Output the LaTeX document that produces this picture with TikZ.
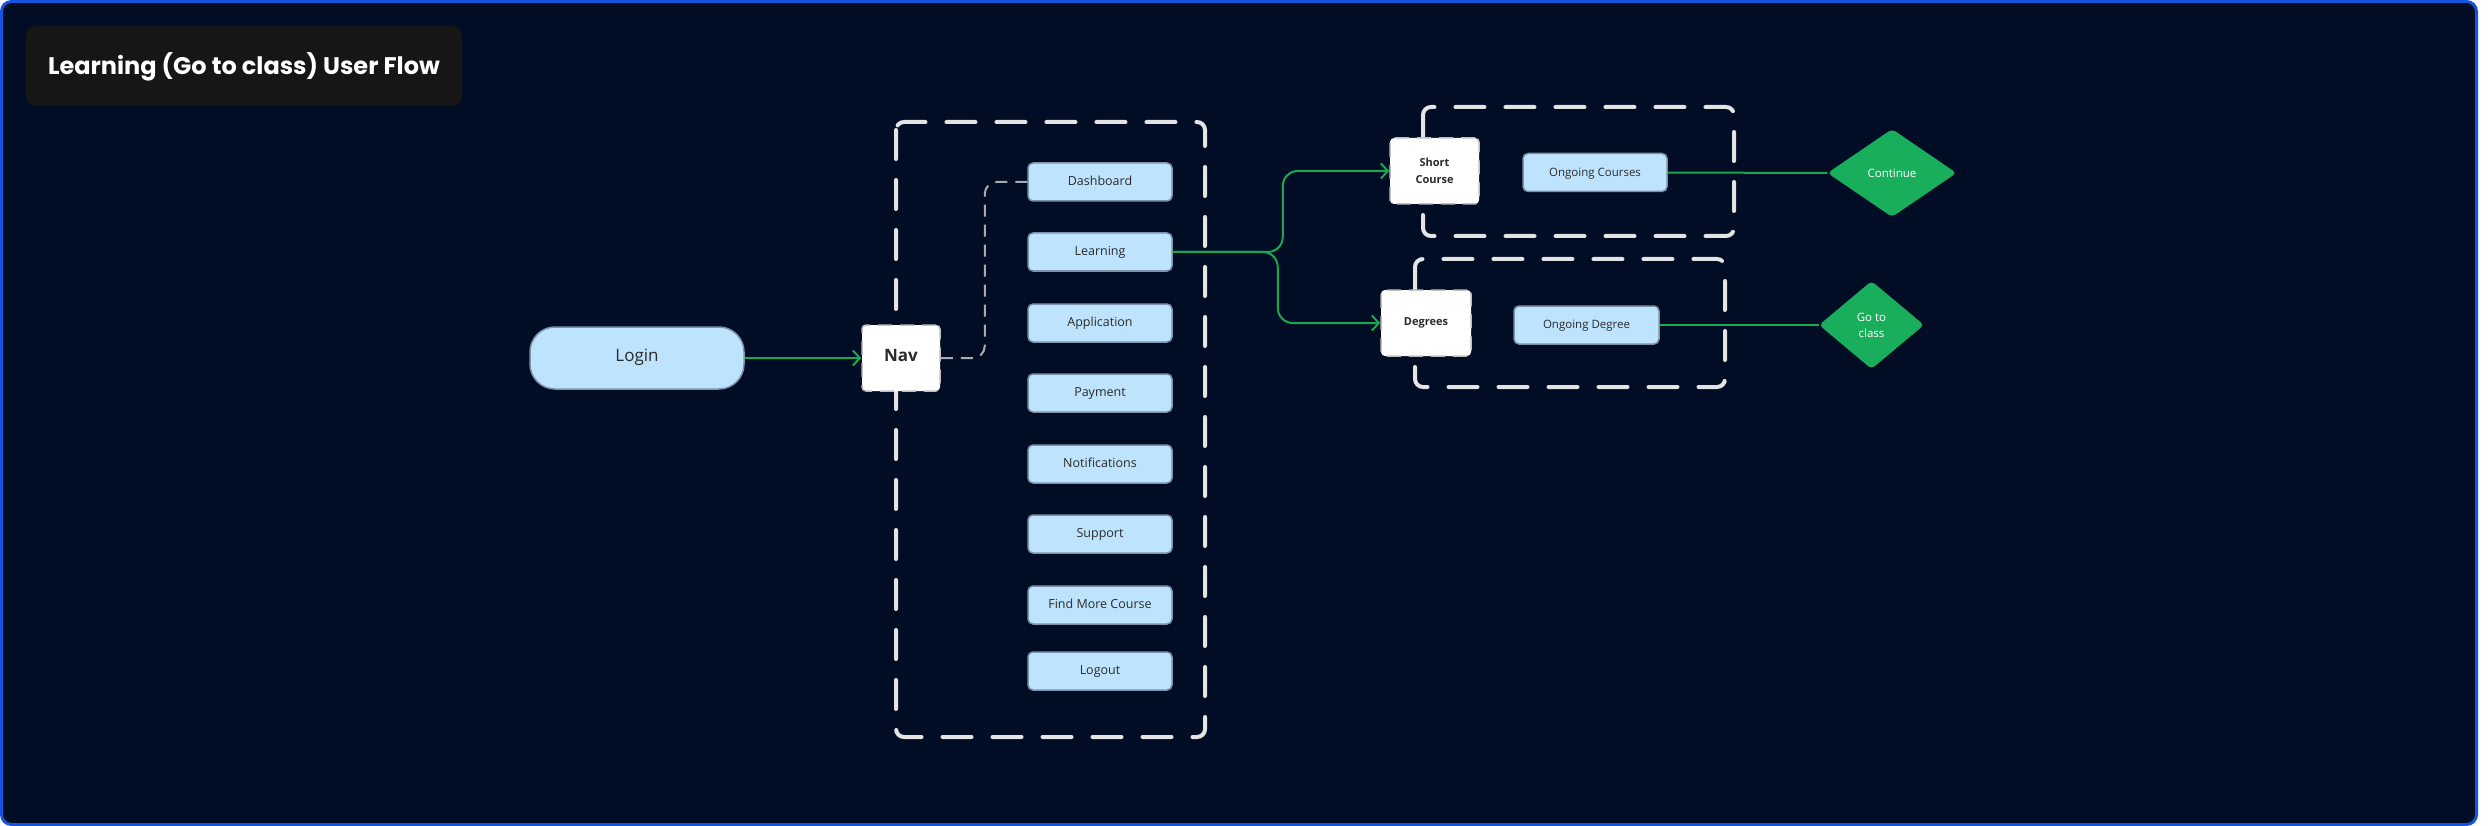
\documentclass[tikz,border=0pt]{standalone}
\usepackage{fontspec}
\setmainfont{Open Sans}
\newfontfamily\titlefont{Poppins}
\usetikzlibrary{arrows.meta, positioning, shapes.geometric}
\definecolor{bgcol}{RGB}{1,13,37}
\definecolor{framecol}{RGB}{22,84,222}
\definecolor{titlecol}{RGB}{22,22,22}
\definecolor{menucol}{RGB}{190,227,253}
\definecolor{menuline}{RGB}{125,147,171}
\definecolor{textcol}{RGB}{43,43,43}
\definecolor{flowcol}{RGB}{22,168,82}
\definecolor{diacol}{RGB}{24,174,92}
\definecolor{groupcol}{RGB}{228,228,228}
\definecolor{navlinecol}{RGB}{170,170,170}

\begin{document}
\begin{tikzpicture}[
  x=1pt, y=-1pt,
  menubox/.style={draw=menuline, line width=1.5pt, fill=menucol, rounded corners=5pt,
                  minimum width=144pt, minimum height=38pt, inner sep=0pt,
                  text height=0.72em, text depth=0em,
                  text=textcol, font=\fontsize{12.5}{14}\selectfont},
  pagebox/.style={draw=black!25, line width=1.5pt, dash pattern=on 14pt off 8pt,
                  fill=white, rounded corners=4pt, inner sep=0pt, align=center,
                  text=textcol, font=\fontsize{11}{17}\selectfont\bfseries},
  choice/.style={diamond, fill=diacol, rounded corners=4pt, inner sep=0pt,
                 align=center, text=white, font=\fontsize{11.5}{16}\selectfont},
  groupbox/.style={draw=groupcol, line width=4pt, rounded corners=8pt,
                   line cap=round, dash pattern=on 29pt off 21pt},
  flow/.style={draw=flowcol, line width=2pt},
  navlink/.style={draw=navlinecol, line width=2pt, dash pattern=on 12pt off 8pt}
]
  \useasboundingbox (0,0) rectangle (2488,826);
  \fill[white] (0,0) rectangle (2488,826);
  \draw[fill=bgcol, draw=framecol, line width=3pt, rounded corners=10pt]
    (1.5,1.5) rectangle (2476.5,824.5);

  % title
  \fill[titlecol, rounded corners=10pt] (26,26) rectangle (462,106);
  \node[text=white, font=\titlefont\fontsize{24}{28}\selectfont\bfseries] (title) at (244,67)
    {Learning (Go to class) User Flow};

  % navigation group
  \draw[groupbox] (896,122) rectangle (1205,737);
  \foreach \name/\y/\txt in {dash/182/Dashboard, learn/252/Learning,
      app/323/Application, pay/393/Payment, notif/464/Notifications,
      supp/534/Support, find/605/Find More Course, logout/671/Logout} {
    \node[menubox] (\name) at (1100,\y) {\txt};
  }

  \node[draw=menuline, line width=1.5pt, fill=menucol, rounded corners=25pt,
        minimum width=214pt, minimum height=62pt, text=textcol,
        text height=0.72em, text depth=0em,
        font=\fontsize{17}{20}\selectfont] (login) at (637,358) {Login};
  \node[pagebox, minimum width=78pt, minimum height=66pt,
        text height=0.72em, text depth=0em,
        font=\fontsize{17}{20}\selectfont\bfseries] (nav) at (901,358) {Nav};

  \draw[flow, -{Straight Barb[length=7pt, width=15pt]}] (login) -- (nav);
  \draw[navlink, rounded corners=12pt] (nav.east) -- ++(44,0) |- (dash.west);

  % course groups
  \draw[groupbox] (1423,107) rectangle (1734,236);
  \draw[groupbox] (1415,259) rectangle (1725,387);

  \node[pagebox, minimum width=89pt, minimum height=66pt] (short) at (1434.5,171)
    {Short\\Course};
  \node[pagebox, minimum width=90pt, minimum height=66pt] (deg) at (1426,323)
    {Degrees};
  \node[menubox, font=\fontsize{11.5}{14}\selectfont] (ongc) at (1595,172.5)
    {Ongoing Courses};
  \node[menubox, minimum width=145pt, font=\fontsize{11.5}{14}\selectfont] (ongd)
    at (1586.5,325) {Ongoing Degree};

  \node[choice, minimum width=129pt, minimum height=88pt] (cont) at (1892,173)
    {Continue};
  \node[choice, minimum width=105pt, minimum height=88pt] (goto) at (1871.5,325)
    {Go to\\class};

  \draw[flow, rounded corners=15pt, -{Straight Barb[length=7pt, width=15pt]}]
    (learn.east) -- ++(110,0) |- (short.west);
  \draw[flow, rounded corners=15pt, -{Straight Barb[length=7pt, width=15pt]}]
    (learn.east) -- ++(105,0) |- (deg.west);
  \draw[flow] (ongc) -- (cont);
  \draw[flow] (ongd) -- (goto);
\end{tikzpicture}
\end{document}
